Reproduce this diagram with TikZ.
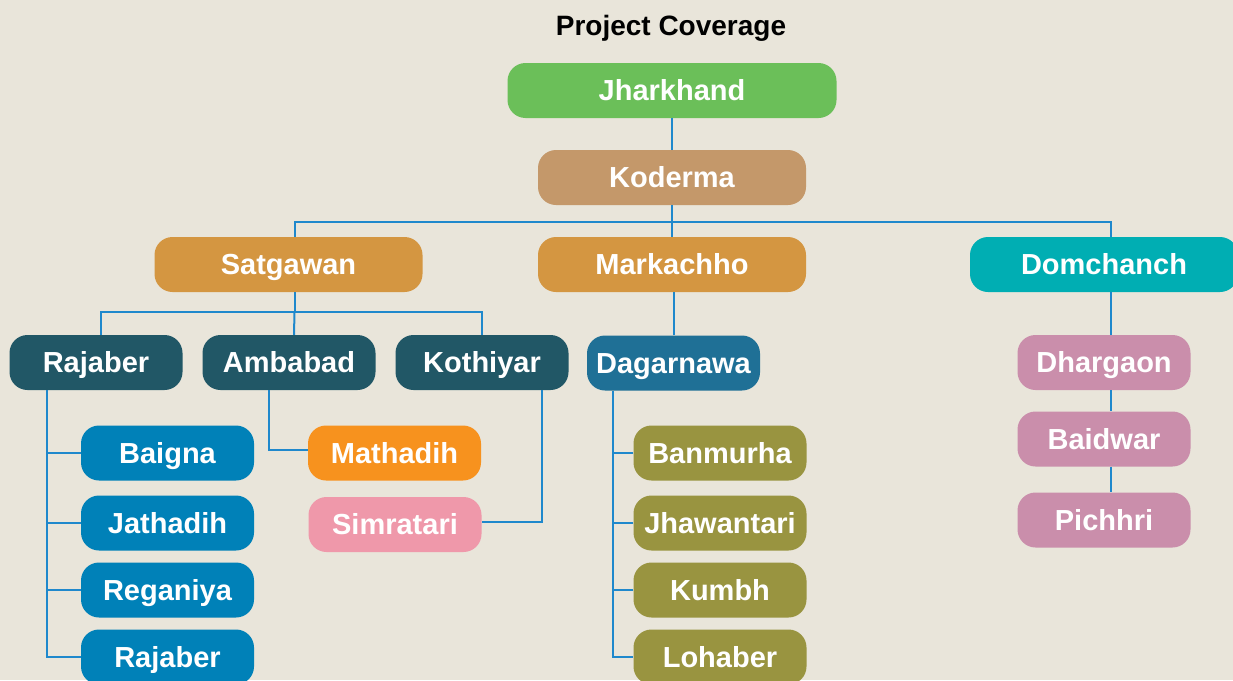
\documentclass[tikz,border=0pt]{standalone}
\usepackage{fontspec}
\setmainfont{Liberation Sans}

\definecolor{paper}{HTML}{E9E5DA}
\definecolor{linkblue}{HTML}{1F88CC}
\definecolor{stategreen}{HTML}{6BBF59}
\definecolor{districttan}{HTML}{C4986A}
\definecolor{blockorange}{HTML}{D49641}
\definecolor{blockteal}{HTML}{00AEB3}
\definecolor{clusterdark}{HTML}{215766}
\definecolor{clusterblue}{HTML}{1F7096}
\definecolor{villageblue}{HTML}{0081B8}
\definecolor{villageorange}{HTML}{F7921E}
\definecolor{villagerose}{HTML}{EF98AA}
\definecolor{villageolive}{HTML}{999440}
\definecolor{villagepink}{HTML}{CA8EAB}

\begin{document}
\begin{tikzpicture}[x=1pt, y=-1pt,
    box/.style={rounded corners=18pt, minimum height=55pt, inner sep=0pt,
        text height=20pt, text depth=0pt,
        text=white, font=\fontsize{29}{31}\selectfont\bfseries},
    small/.style={box, minimum width=173pt},
    wide/.style={box, minimum width=268pt},
    link/.style={draw=linkblue, line width=2pt}]
    % canvas
    \fill [paper] (0,0) rectangle (1233,680);
    \useasboundingbox (0,0) rectangle (1233,680);
    \clip (0,0) rectangle (1233,680);

    % title
    \node [anchor=base] (title) at (671,35) {\fontsize{28}{30}\selectfont\bfseries Project Coverage};

    % state and district
    \node [box, minimum width=329pt, fill=stategreen] (jharkhand) at (672,90.5) {Jharkhand};
    \node [wide, fill=districttan] (koderma) at (672,177.5) {Koderma};

    % blocks
    \node [wide, fill=blockorange] (satgawan)  at (288.5,264.5) {Satgawan};
    \node [wide, fill=blockorange] (markachho) at (672,264.5)   {Markachho};
    \node [wide, fill=blockteal]   (domchanch) at (1104,264.5)  {Domchanch};

    % clusters
    \node [small, fill=clusterdark] (rajaber)   at (96,362.5)   {Rajaber};
    \node [small, fill=clusterdark] (ambabad)   at (289,362.5)  {Ambabad};
    \node [small, fill=clusterdark] (kothiyar)  at (482,362.5)  {Kothiyar};
    \node [small, fill=clusterblue] (dagarnawa) at (673.5,363)  {Dagarnawa};

    % villages
    \node [small, fill=villageblue] (baigna)    at (167.5,453) {Baigna};
    \node [small, fill=villageblue] (jathadih)  at (167.5,523) {Jathadih};
    \node [small, fill=villageblue] (reganiya)  at (167.5,590) {Reganiya};
    \node [small, fill=villageblue] (rajaberv)  at (167.5,657) {Rajaber};
    \node [small, fill=villageorange] (mathadih)  at (394.5,453)   {Mathadih};
    \node [small, fill=villagerose]   (simratari) at (395,524.5)   {Simratari};
    \node [small, fill=villageolive] (banmurha)   at (720,453) {Banmurha};
    \node [small, fill=villageolive] (jhawantari) at (720,523) {Jhawantari};
    \node [small, fill=villageolive] (kumbh)      at (720,590) {Kumbh};
    \node [small, fill=villageolive] (lohaber)    at (720,657) {Lohaber};
    \node [small, fill=villagepink] (dhargaon) at (1104,362.5) {Dhargaon};
    \node [small, fill=villagepink] (baidwar)  at (1104,439)   {Baidwar};
    \node [small, fill=villagepink] (pichhri)  at (1104,520)   {Pichhri};

    % upper links
    \draw [link] (jharkhand) -- (koderma);
    \draw [link] (koderma.south) -- ++(0,17) coordinate (kbus);
    \draw [link] ([xshift=6pt]satgawan.north) |- (kbus) -| ([xshift=7pt]domchanch.north);
    \draw [link] (kbus) -- (markachho);
    \draw [link] ([xshift=6pt]satgawan.south) -- ++(0,20) coordinate (sbus);
    \draw [link] ([xshift=5pt]rajaber.north) |- (sbus) -| (kothiyar.north);
    \draw [link] (sbus) -- ([xshift=5pt]ambabad.north);
    \draw [link] (dagarnawa.north) -- (dagarnawa.north |- markachho.south);
    \draw [link] ([xshift=7pt]domchanch.south) -- ([xshift=7pt]dhargaon.north);
    \draw [link] ([xshift=7pt]dhargaon.south) -- ([xshift=7pt]baidwar.north);
    \draw [link] ([xshift=7pt]baidwar.south) -- ([xshift=7pt]pichhri.north);

    % village links
    \draw [link] ([xshift=-49pt]rajaber.south) |- (rajaberv.west);
    \foreach \v in {baigna, jathadih, reganiya}
        \draw [link] (\v.west) -- (47,0 |- \v.west);
    \draw [link] ([xshift=-20pt]ambabad.south) |- ([yshift=3pt]mathadih.west);
    \draw [link] ([xshift=60pt]kothiyar.south) |- ([yshift=3pt]simratari.east);
    \draw [link] ([xshift=-61pt]dagarnawa.south) |- (lohaber.west);
    \foreach \v in {banmurha, jhawantari, kumbh}
        \draw [link] (\v.west) -- (612,0 |- \v.west);
\end{tikzpicture}
\end{document}
